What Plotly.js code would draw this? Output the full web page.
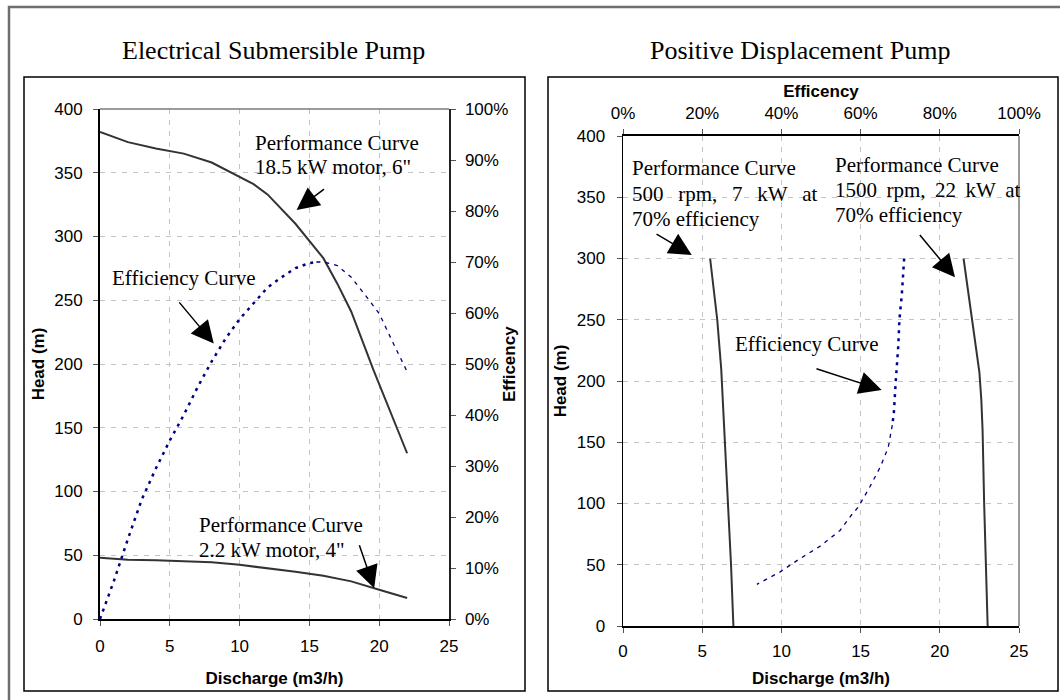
<!DOCTYPE html>
<html>
<head>
<meta charset="utf-8">
<script src="https://cdn.plot.ly/plotly-3.0.1.min.js"></script>
<style>html,body{margin:0;padding:0;background:#fff;}#chart{width:1060px;height:700px;}</style>
</head>
<body>
<div id="chart"></div>
<script>
// ---------- Left panel: Electrical Submersible Pump ----------
var espDischarge185 = [0, 1, 2, 4, 6, 8, 10, 11, 12, 14, 16, 17, 18, 19.6, 22];
var espHead185      = [382, 378, 374, 369, 365, 358, 347, 341, 333, 310, 283, 263, 241, 195, 130];

var espDischarge22  = [0, 2, 4, 6, 8, 10, 12, 14, 16, 18, 20, 22];
var espHead22       = [48, 46.5, 46, 45.5, 44.5, 42.5, 40, 37, 34, 29.5, 23, 16.5];

var espEffDischargeA = [0, 1, 2, 3, 4, 5, 6, 7, 8, 9, 10, 11, 12, 13, 14, 15, 15.5];
var espEffA          = [0, 0.075, 0.157, 0.235, 0.295, 0.35, 0.40, 0.455, 0.505, 0.55, 0.588, 0.62, 0.65, 0.67, 0.688, 0.698, 0.70];
var espEffDischargeB = [15.5, 16, 17, 18, 19, 20, 21, 22];
var espEffB          = [0.70, 0.70, 0.693, 0.67, 0.635, 0.599, 0.541, 0.485];

// ---------- Right panel: Positive Displacement Pump ----------
var pdHead500       = [300, 250, 210, 150, 100, 50, 0];
var pdDischarge500  = [5.5, 5.95, 6.2, 6.45, 6.65, 6.82, 6.97];

var pdHead1500      = [300, 250, 225, 207, 185, 160, 100, 50, 0];
var pdDischarge1500 = [21.5, 22.05, 22.3, 22.5, 22.62, 22.7, 22.8, 22.92, 23.02];

var pdEffHeadA = [300, 270, 250, 228, 201, 174, 164];
var pdEffA     = [0.71, 0.704, 0.698, 0.695, 0.689, 0.684, 0.68];
var pdEffHeadB = [164, 146, 130, 114, 97, 91, 78, 65, 55, 44, 34];
var pdEffB     = [0.68, 0.67, 0.65, 0.624, 0.594, 0.578, 0.548, 0.497, 0.447, 0.396, 0.338];

// tick labels
var headTicks = [0, 50, 100, 150, 200, 250, 300, 350, 400];
var dischargeTicks = [0, 5, 10, 15, 20, 25];
var effTicksLeft = [0, 0.1, 0.2, 0.3, 0.4, 0.5, 0.6, 0.7, 0.8, 0.9, 1];
var effTicksTop = [0, 0.2, 0.4, 0.6, 0.8, 1];

// ---------- helpers for layout (pixel -> paper) ----------
var W = 1060, H = 700;
function px(x) { return x / W; }
function py(y) { return 1 - y / H; }

var perfColor = '#333333';
var effColor = '#000080';
var sans = 'Arial, "Liberation Sans", sans-serif';
var serif = '"Times New Roman", "Liberation Serif", serif';
var gridCol = '#c4c4c4';
var gridDash = '5px,6px';

var traces = [
  {x: espDischarge185, y: espHead185, xaxis: 'x', yaxis: 'y', mode: 'lines',
   line: {color: perfColor, width: 2}, hoverinfo: 'skip'},
  {x: espDischarge22, y: espHead22, xaxis: 'x', yaxis: 'y', mode: 'lines',
   line: {color: perfColor, width: 2}, hoverinfo: 'skip'},
  {x: espEffDischargeA, y: espEffA, xaxis: 'x', yaxis: 'y2', mode: 'lines',
   line: {color: effColor, width: 2.5, dash: '3px,5px'}, hoverinfo: 'skip'},
  {x: espEffDischargeB, y: espEffB, xaxis: 'x', yaxis: 'y2', mode: 'lines',
   line: {color: effColor, width: 1.3, dash: '4px,5px'}, hoverinfo: 'skip'},
  {x: pdDischarge500, y: pdHead500, xaxis: 'x3', yaxis: 'y3', mode: 'lines',
   line: {color: perfColor, width: 2}, hoverinfo: 'skip'},
  {x: pdDischarge1500, y: pdHead1500, xaxis: 'x3', yaxis: 'y3', mode: 'lines',
   line: {color: perfColor, width: 2}, hoverinfo: 'skip'},
  {x: pdEffA, y: pdEffHeadA, xaxis: 'x4', yaxis: 'y3', mode: 'lines',
   line: {color: effColor, width: 2.5, dash: '3px,5px'}, hoverinfo: 'skip'},
  {x: pdEffB, y: pdEffHeadB, xaxis: 'x4', yaxis: 'y3', mode: 'lines',
   line: {color: effColor, width: 1.3, dash: '4px,5px'}, hoverinfo: 'skip'}
];

var tickFont = {family: sans, size: 17, color: '#000'};
var axTitleFont = {family: sans, size: 17, color: '#000', weight: 'bold'};

function axisBase(extra) {
  var a = {
    showgrid: true, gridcolor: gridCol, griddash: gridDash, gridwidth: 1,
    zeroline: false, showline: true, linecolor: '#000', linewidth: 2,
    ticks: 'outside', ticklen: 5, tickcolor: '#555', tickwidth: 1,
    tickfont: tickFont, fixedrange: true
  };
  for (var k in extra) a[k] = extra[k];
  return a;
}

var layout = {
  width: W, height: H, autosize: false,
  margin: {l: 0, r: 0, t: 0, b: 0, pad: 0},
  paper_bgcolor: '#fff', plot_bgcolor: '#fff',
  showlegend: false,
  xaxis: axisBase({
    domain: [px(100), px(449)], anchor: 'y', range: [0, 25],
    tickvals: dischargeTicks, ticklabelstandoff: 6,
    title: {text: 'Discharge (m3/h)', font: axTitleFont, standoff: 17}
  }),
  yaxis: axisBase({
    domain: [py(619), py(109)], anchor: 'x', range: [0, 400],
    tickvals: headTicks, ticklabelstandoff: 7,
    title: {text: 'Head (m)', font: axTitleFont, standoff: 5}
  }),
  yaxis2: axisBase({
    overlaying: 'y', side: 'right', anchor: 'x', range: [0, 1],
    tickvals: effTicksLeft, tickformat: '.0%', showgrid: false,
    linecolor: '#222', linewidth: 1.5, ticklabelstandoff: 6
  }),
  xaxis3: axisBase({
    domain: [px(623), px(1019)], anchor: 'y3', range: [0, 25],
    tickvals: dischargeTicks, ticklabelstandoff: 4,
    title: {text: 'Discharge (m3/h)', font: axTitleFont, standoff: 12}
  }),
  yaxis3: axisBase({
    domain: [py(626), py(136)], anchor: 'x3', range: [0, 400],
    tickvals: headTicks, linewidth: 1.5, ticklabelstandoff: 8,
    title: {text: 'Head (m)', font: axTitleFont, standoff: 6}
  }),
  xaxis4: axisBase({
    overlaying: 'x3', side: 'top', anchor: 'y3', range: [0, 1],
    tickvals: effTicksTop, tickformat: '.0%', showgrid: false,
    ticklabelstandoff: 3,
    title: {text: 'Efficency', font: axTitleFont, standoff: 2}
  }),
  shapes: [
    // outer frame (left and top edges visible)
    {type: 'path', xref: 'paper', yref: 'paper',
     path: 'M ' + px(9) + ' ' + py(700) + ' L ' + px(9) + ' ' + py(7) + ' L ' + px(1060) + ' ' + py(7),
     line: {color: '#6e6e6e', width: 2.5}},
    // chart boxes
    {type: 'rect', xref: 'paper', yref: 'paper', x0: px(24), x1: px(525), y0: py(691), y1: py(77),
     line: {color: '#000', width: 1.5}},
    {type: 'rect', xref: 'paper', yref: 'paper', x0: px(548), x1: px(1058), y0: py(691), y1: py(77),
     line: {color: '#000', width: 1.5}},
    // plot-area borders
    {type: 'line', xref: 'x domain', yref: 'y domain', x0: 0, x1: 1, y0: 1, y1: 1,
     line: {color: '#7a7a7a', width: 1.5}},
    {type: 'line', xref: 'x3 domain', yref: 'y3 domain', x0: 1, x1: 1, y0: 0, y1: 1,
     line: {color: '#7a7a7a', width: 1.5}}
  ],
  annotations: []
};

var ann = layout.annotations;
var annFont = {family: serif, size: 21, color: '#000'};
var titleFont = {family: serif, size: 26, color: '#000'};

function textAt(text, x, y, font, xanchor, angle) {
  ann.push({text: text, xref: 'paper', yref: 'paper', x: px(x), y: py(y),
            xanchor: xanchor || 'left', yanchor: 'middle', showarrow: false,
            textangle: angle || 0, font: font || annFont});
}
function arrow(xref, yref, x, y, ax, ay) {
  ann.push({text: ' ', xref: xref, yref: yref, x: x, y: y, ax: ax, ay: ay,
            axref: 'pixel', ayref: 'pixel', showarrow: true, arrowhead: 2,
            arrowsize: 3, arrowwidth: 1.5, arrowcolor: '#000', standoff: 0,
            font: {size: 1}});
}

// panel titles
textAt('Electrical Submersible Pump', 273, 51, titleFont, 'center');
textAt('Positive Displacement Pump', 800, 51, titleFont, 'center');

// secondary axis title of the left panel (sits over its tick labels, as in the original)
textAt('Efficency', 509, 364, axTitleFont, 'center', -90);

// left panel notes
textAt('Performance Curve', 253, 143);
textAt('18.5 kW motor, 6"', 253, 167);
arrow('x', 'y', 14.08, 320.8, 29, -22);
textAt('Efficiency Curve', 110, 278);
arrow('x', 'y', 8.15, 216, -36, -43);
textAt('Performance Curve', 197, 525);
textAt('2.2 kW motor, 4"', 197, 550);
arrow('x', 'y', 19.64, 24.1, -15.5, -45);

// right panel notes
var g3 = '\u00a0\u00a0\u2009';
var g2 = '\u00a0\u2009';
textAt('Performance Curve', 630, 168.5);
textAt('500' + g3 + 'rpm,' + g3 + '7' + g3 + 'kW' + g3 + 'at', 630, 193.5);
textAt('70% efficiency', 630, 218.5);
arrow('x3', 'y3', 4.34, 302.9, -36.7, -21.7);
textAt('Performance Curve', 833, 165);
textAt('1500' + g2 + 'rpm,' + g2 + '22' + g2 + 'kW' + g2 + 'at', 833, 190);
textAt('70% efficiency', 833, 215);
arrow('x3', 'y3', 20.96, 284.7, -36.7, -44);
textAt('Efficiency Curve', 733, 344);
arrow('x3', 'y3', 16.33, 192.7, -66.7, -21.7);

Plotly.newPlot('chart', traces, layout, {staticPlot: true, displayModeBar: false});
</script>
</body>
</html>
